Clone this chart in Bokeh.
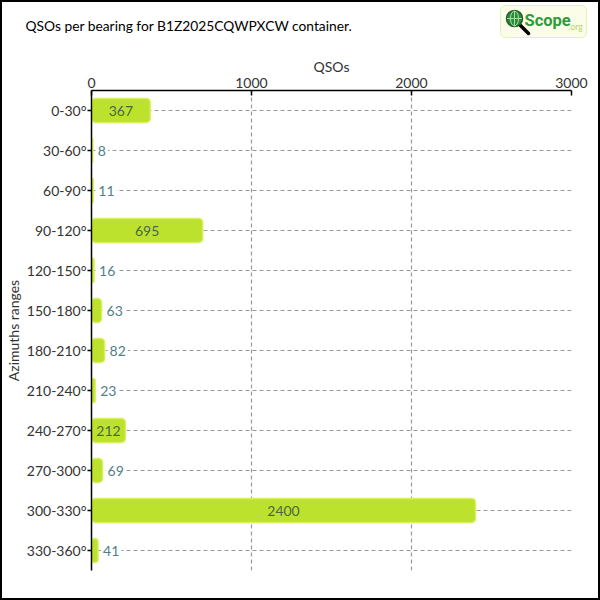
from bokeh.plotting import figure
from bokeh.layouts import column
from bokeh.models import ColumnDataSource, FactorRange, Range1d, FixedTicker
from bokeh.core.properties import value
from bokeh.embed import file_html
from bokeh.resources import INLINE

# ---- data ----
ranges = ["0-30°", "30-60°", "60-90°", "90-120°", "120-150°", "150-180°",
          "180-210°", "210-240°", "240-270°", "270-300°", "300-330°", "330-360°"]
qsos = [367, 8, 11, 695, 16, 63, 82, 23, 212, 69, 2400, 41]
x_ticks = [0, 1000, 2000, 3000]
title_text = "QSOs per bearing for B1Z2025CQWPXCW container."
logo_text = "Scope"
logo_suffix = ".org"

FONT = "Lato"
HEAD_H = 41

# ---------------- header (title + logo) ----------------
h = figure(width=600, height=HEAD_H, output_backend="svg", toolbar_location=None,
           x_range=Range1d(0, 600), y_range=Range1d(HEAD_H, 0),
           x_axis_type=None, y_axis_type=None, min_border=0)
h.grid.visible = False
h.outline_line_color = None
h.background_fill_color = None
h.border_fill_color = None
h.frame_align = False
h.styles = {"box-shadow": "inset 2px 2px 0 0 black, inset -2px 0 0 0 black"}

h.text(x=[25], y=[25], text=[title_text], text_font=value(FONT),
       text_font_size="13.8px", text_color="black", text_align="left",
       text_baseline="middle")

# logo
h.quad(left=[500], right=[586], top=[5], bottom=[37], border_radius=5,
       fill_color="#fbfde8", line_color="#e6efb8", line_width=1)
h.segment(x0=[519], y0=[24], x1=[528], y1=[33], line_width=3.5,
          line_color="black", line_cap="round")
h.circle(x=[514], y=[18], radius=8, fill_color="#2e8b3e",
         line_color="#1d5a28", line_width=1.5)
h.segment(x0=[514, 506.5], y0=[10.5, 18], x1=[514, 521.5], y1=[25.5, 18],
          line_color="#a9dca0", line_width=1)
h.ellipse(x=[514], y=[18], width=8, height=15, fill_color=None,
          line_color="#a9dca0", line_width=1)
h.text(x=[524], y=[20], text=[logo_text], text_font=value("Roboto"),
       text_font_size="16.5px", text_font_style="bold", text_color="#2f9a3c",
       text_align="left", text_baseline="middle")
h.text(x=[568], y=[26], text=[logo_suffix], text_font=value(FONT),
       text_font_size="8.5px", text_color="#b4d66a", text_align="left",
       text_baseline="middle")

# ---------------- chart ----------------
p = figure(width=600, height=600 - HEAD_H, output_backend="svg", toolbar_location=None,
           y_range=FactorRange(factors=ranges[::-1]), x_range=Range1d(0, 3000),
           x_axis_location="above", min_border_left=91, min_border_right=29,
           min_border_top=90 - HEAD_H, min_border_bottom=30)
p.outline_line_color = None
p.background_fill_color = None
p.border_fill_color = None
p.frame_align = False
p.styles = {"box-shadow": "inset 2px -2px 0 0 black, inset -2px 0 0 0 black"}

xa = p.xaxis[0]
xa.ticker = FixedTicker(ticks=x_ticks)
xa.axis_label = "QSOs"
xa.axis_label_text_font = FONT
xa.axis_label_text_font_style = "normal"
xa.axis_label_text_font_size = "14px"
xa.axis_label_text_color = "#333333"
xa.axis_label_standoff = 0
xa.major_label_text_font = FONT
xa.major_label_text_font_size = "14px"
xa.major_label_text_color = "#333333"
xa.major_label_standoff = 3
xa.major_tick_in = 5
xa.major_tick_out = 0
xa.minor_tick_line_color = None
xa.axis_line_color = "black"
xa.axis_line_width = 1.5
xa.major_tick_line_width = 1.5

ya = p.yaxis[0]
ya.axis_label = "Azimuths ranges"
ya.axis_label_text_font = FONT
ya.axis_label_text_font_style = "normal"
ya.axis_label_text_font_size = "14px"
ya.axis_label_text_color = "#333333"
ya.axis_label_standoff = 2
ya.major_label_text_font = FONT
ya.major_label_text_font_size = "14px"
ya.major_label_text_color = "#333333"
ya.major_label_standoff = 1
ya.major_tick_in = 0
ya.major_tick_out = 4
ya.axis_line_color = "black"
ya.axis_line_width = 1.5
ya.major_tick_line_width = 1.5

p.xgrid.grid_line_color = "#999999"
p.xgrid.grid_line_dash = "4 3"
p.xgrid.grid_line_width = 1.2
p.ygrid.grid_line_color = "#999999"
p.ygrid.grid_line_dash = "4 3"
p.ygrid.grid_line_width = 1.2

src = ColumnDataSource(dict(y=ranges, v=qsos))
p.hbar(y="y", left=0, right="v", height=0.6, source=src,
       fill_color="#bde22e", line_color="#d8f05c", line_width=1.5,
       border_radius=4)

inside = [(r, v) for r, v in zip(ranges, qsos) if v >= 200]
outside = [(r, v) for r, v in zip(ranges, qsos) if v < 200]
src_in = ColumnDataSource(dict(y=[r for r, _ in inside], x=[v / 2 for _, v in inside],
                               t=[str(v) for _, v in inside]))
src_out = ColumnDataSource(dict(y=[r for r, _ in outside], x=[v for _, v in outside],
                                t=[str(v) for _, v in outside]))
p.text(x="x", y="y", text="t", source=src_in, text_align="center",
       text_baseline="middle", text_font=value(FONT), text_font_size="14px",
       text_color="#4a6648")
p.text(x="x", y="y", text="t", source=src_out, text_align="left",
       text_baseline="middle", text_font=value(FONT), text_font_size="14px",
       text_color="#4f8087", x_offset=3, background_fill_color="white",
       padding=2)

layout = column(h, p, spacing=0)

open("out.html", "w").write(file_html(layout, INLINE))
